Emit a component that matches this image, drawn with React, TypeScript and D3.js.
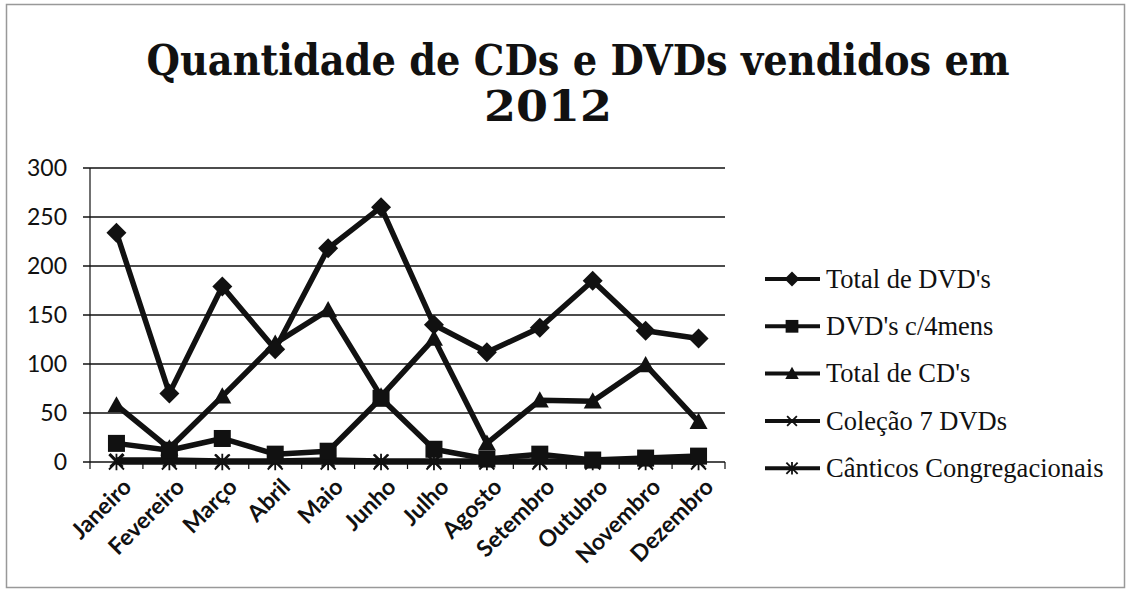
import React from "react";
import * as d3 from "d3";

const months = ["Janeiro","Fevereiro","Março","Abril","Maio","Junho","Julho","Agosto","Setembro","Outubro","Novembro","Dezembro"];
const totalDVDs = [234, 70, 179, 115, 218, 260, 140, 112, 137, 185, 134, 126];
const dvds4mens = [19, 12, 24, 8, 11, 65, 13, 3, 8, 2, 4, 6];
const totalCDs = [58, 14, 67, 121, 155, 67, 126, 19, 63, 62, 99, 41];
const colecao7 = [2, 2, 1, 1, 2, 1, 1, 1, 1, 1, 1, 1];
const canticos = [0, 0, 0, 0, 0, 0, 0, 0, 0, 0, 0, 0];
const yTicks = [0, 50, 100, 150, 200, 250, 300];
const titleLines = ["Quantidade de CDs e DVDs vendidos em", "2012"];

const series = [
  { name: "Total de DVD's", values: totalDVDs, marker: "diamond" },
  { name: "DVD's c/4mens", values: dvds4mens, marker: "square" },
  { name: "Total de CD's", values: totalCDs, marker: "triangle" },
  { name: "Coleção 7 DVDs", values: colecao7, marker: "x" },
  { name: "Cânticos Congregacionais", values: canticos, marker: "star" },
];

function Marker({ type, x, y, s = 1 }: { type: string; x: number; y: number; s?: number }) {
  const c = "#111";
  if (type === "diamond") {
    const r = 10 * s;
    return <path d={`M${x},${y - r}L${x + r},${y}L${x},${y + r}L${x - r},${y}Z`} fill={c} />;
  }
  if (type === "square") {
    const r = 8.5 * s;
    return <rect x={x - r} y={y - r} width={2 * r} height={2 * r} fill={c} />;
  }
  if (type === "triangle") {
    const r = 9 * s;
    return <path d={`M${x},${y - r}L${x + r},${y + r * 0.8}L${x - r},${y + r * 0.8}Z`} fill={c} />;
  }
  if (type === "x") {
    const r = 6.5 * s;
    return <path d={`M${x - r},${y - r}L${x + r},${y + r}M${x - r},${y + r}L${x + r},${y - r}`} stroke={c} strokeWidth={1.8} />;
  }
  const r = 7.5 * s;
  return (
    <path
      d={`M${x - r},${y - r}L${x + r},${y + r}M${x - r},${y + r}L${x + r},${y - r}M${x},${y - r * 1.1}L${x},${y + r * 1.1}`}
      stroke={c}
      strokeWidth={1.8}
    />
  );
}

export default function App() {
  const left = 90, right = 725, top = 168, bottom = 462;
  const x = d3.scaleBand<string>().domain(months).range([left, right]);
  const y = d3.scaleLinear().domain([0, 300]).range([bottom, top]);
  const line = d3
    .line<number>()
    .x((_, i) => (x(months[i]) as number) + x.bandwidth() / 2)
    .y((v) => y(v));
  const boundaries = d3.range(months.length + 1).map((i) => left + i * x.bandwidth());

  return (
    <svg width={1130} height={600} style={{ position: "absolute", left: 0, top: 0, background: "#fff" }}>
      <rect x={0} y={0} width={1130} height={600} fill="#fff" />
      <rect x={6.5} y={4.5} width={1118} height={583} fill="none" stroke="#999" strokeWidth={1.5} />
      {/* title */}
      <text x={578} y={75} textAnchor="middle" fontFamily="'DejaVu Serif', serif" fontWeight="bold" fontSize={42} fill="#111" textLength={863} lengthAdjust="spacingAndGlyphs">
        {titleLines[0]}
      </text>
      <text x={548} y={121} textAnchor="middle" fontFamily="'DejaVu Serif', serif" fontWeight="bold" fontSize={42} fill="#111" textLength={128} lengthAdjust="spacingAndGlyphs">
        {titleLines[1]}
      </text>
      {/* grid */}
      {yTicks.map((t) => (
        <g key={t}>
          <line x1={left - 7} x2={right} y1={y(t)} y2={y(t)} stroke="#111" strokeWidth={1.4} />
          <text x={67} y={y(t)} dy="0.35em" textAnchor="end" fontFamily="Lato, sans-serif" fontSize={23} fill="#111">
            {t}
          </text>
        </g>
      ))}
      <line x1={left} x2={left} y1={top} y2={bottom} stroke="#111" strokeWidth={1.2} />
      {boundaries.map((bx, i) => (
        <line key={i} x1={bx} x2={bx} y1={bottom} y2={bottom + 7} stroke="#111" strokeWidth={1.2} />
      ))}
      {months.map((m) => {
        const cx = (x(m) as number) + x.bandwidth() / 2;
        return (
          <text
            key={m}
            transform={`translate(${cx + 5},${bottom + 15}) rotate(-45)`}
            textAnchor="end"
            dy="0.7em"
            fontFamily="Lato, sans-serif"
            fontWeight="bold"
            fontSize={23}
            fill="#111"
          >
            {m}
          </text>
        );
      })}
      {/* series */}
      {series
        .slice()
        .reverse()
        .map((s) => (
          <g key={s.name}>
            <path d={line(s.values) || ""} fill="none" stroke="#111" strokeWidth={5.5} strokeLinejoin="round" />
            {s.values.map((v, i) => (
              <Marker key={i} type={s.marker} x={(x(months[i]) as number) + x.bandwidth() / 2} y={y(v)} />
            ))}
          </g>
        ))}
      {/* legend */}
      {series.map((s, i) => {
        const ly = 279 + i * 47.3;
        return (
          <g key={s.name}>
            <line x1={765} x2={820} y1={ly} y2={ly} stroke="#111" strokeWidth={4} />
            <Marker type={s.marker} x={792} y={ly} s={0.75} />
            <text x={826} y={ly} dy="0.33em" fontFamily="'Liberation Serif', serif" fontSize={26.5} fill="#111">
              {s.name}
            </text>
          </g>
        );
      })}
    </svg>
  );
}
